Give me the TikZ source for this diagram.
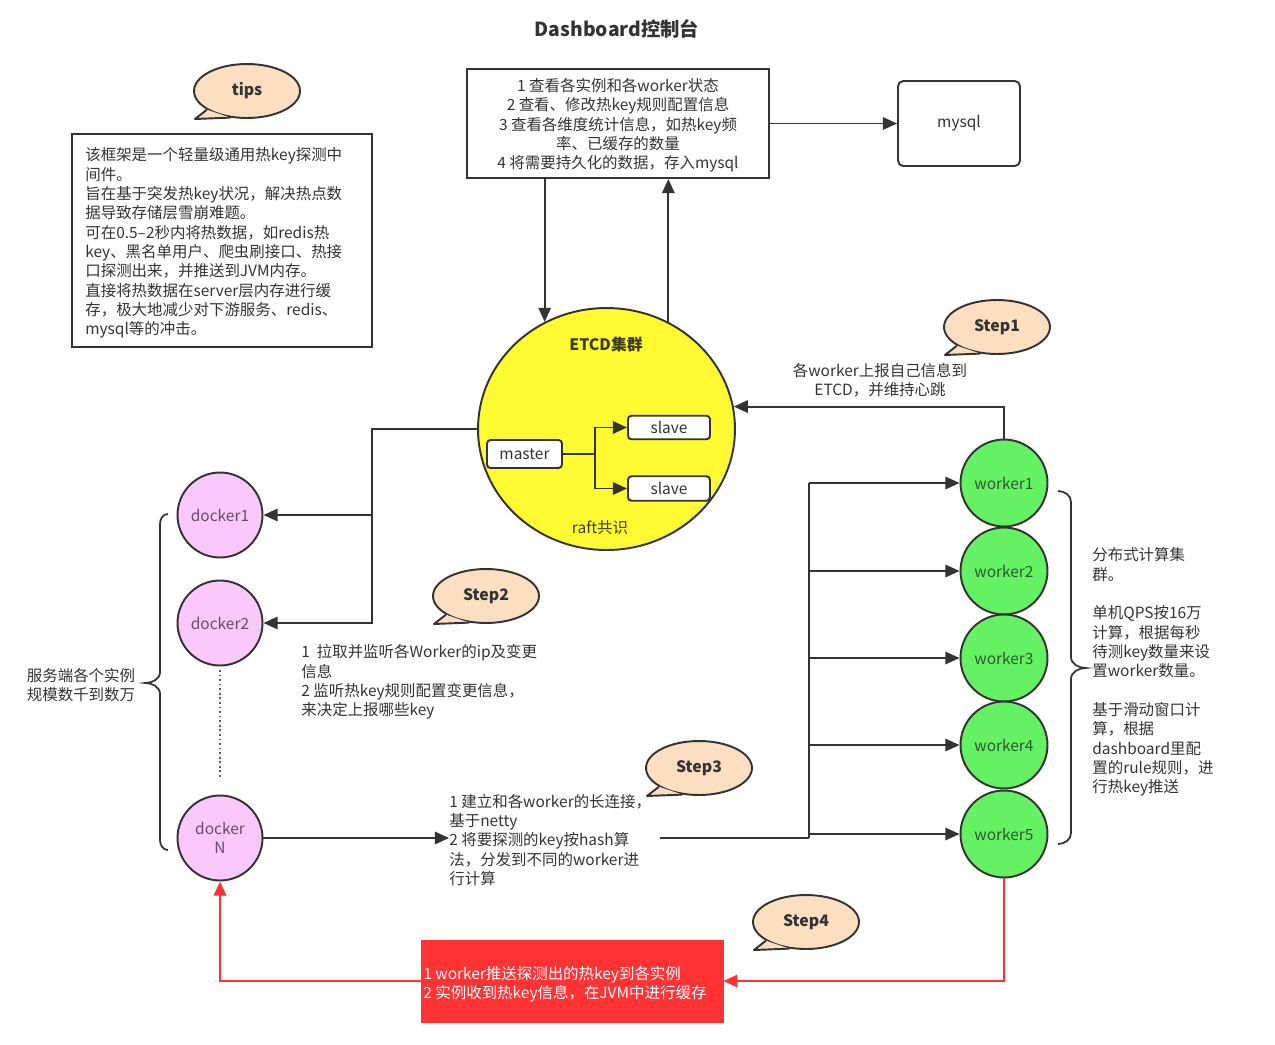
\documentclass[tikz,border=0pt]{standalone}
\usepackage{fontspec}
\setmainfont{Noto Sans CJK SC}
\usetikzlibrary{arrows.meta,shapes.geometric,calc}
\definecolor{ln}{HTML}{333333}
\definecolor{txt}{HTML}{333333}
\definecolor{peach}{RGB}{252,222,192}
\definecolor{pinkc}{RGB}{250,200,250}
\definecolor{greenc}{RGB}{100,242,100}
\definecolor{yel}{RGB}{255,250,50}
\definecolor{redc}{RGB}{255,51,51}
\definecolor{dtxt}{RGB}{105,75,105}
\definecolor{wtxt}{RGB}{45,90,45}
\definecolor{etxt}{RGB}{60,60,20}
\newcommand\mybubble[3]{%
  \node[bub] (#1) at (#2) {#3};
  \fill[peach] (#1.205) -- ($(#1.center)+(-52,28)$) -- (#1.238) -- cycle;
  \draw[line, line join=round] (#1.205) -- ($(#1.center)+(-52,28)$) -- (#1.238);
}
\begin{document}
\begin{tikzpicture}[x=0.02cm,y=-0.02cm,
  every node/.style={font=\fontsize{8.8}{11}\selectfont, text=txt},
  line/.style={draw=ln, line width=1.1pt},
  arr/.style={line, -{Triangle[length=8pt,width=7pt]}},
  redarr/.style={draw=redc, line width=1.1pt, -{Triangle[length=8pt,width=7pt]}},
  box/.style={draw=ln, line width=1.1pt, inner sep=0, fill=white},
  rbox/.style={box, rounded corners=2pt},
  docker/.style={circle, draw=ln, line width=1.1pt, fill=pinkc, minimum size=1.7cm, inner sep=0, text=dtxt, align=center},
  worker/.style={circle, draw=ln, line width=1.1pt, fill=greenc, minimum size=1.74cm, inner sep=0, text=wtxt},
  bub/.style={ellipse, draw=ln, line width=1.1pt, fill=peach, minimum width=2.12cm, minimum height=1.08cm, inner sep=0, font=\fontsize{9}{11}\selectfont\bfseries},
  txtl/.style={align=left, inner sep=0, anchor=west},
  txtc/.style={align=center, inner sep=0}
]
\useasboundingbox (0,0) rectangle (1275,1045);

% title
\node[font=\fontsize{11}{13}\selectfont\bfseries] (title) at (617,29) {Dashboard控制台};

% dashboard box and mysql
\node[box, minimum width=6.04cm, minimum height=2.18cm] (dash) at (618,123.5) {};
\node[txtc] (dashtext) at (618,125.5) {1 查看各实例和各worker状态\\2 查看、修改热key规则配置信息\\3 查看各维度统计信息，如热key频\\率、已缓存的数量\\4 将需要持久化的数据，存入mysql};
\node[box, rounded corners=3pt, minimum width=2.44cm, minimum height=1.7cm] (mysql) at (959,123.5) {mysql};
\draw[arr] (dash.east) -- (mysql.west);

% tips
\mybubble{tips}{247,91}{tips}
\node[box, minimum width=6cm, minimum height=4.26cm] (tipsbox) at (222,240.5) {};
\node[txtl] (tipstext) at (85,243) {该框架是一个轻量级通用热key探测中\\间件。\\旨在基于突发热key状况，解决热点数\\据导致存储层雪崩难题。\\可在0.5–2秒内将热数据，如redis热\\key、黑名单用户、爬虫刷接口、热接\\口探测出来，并推送到JVM内存。\\直接将热数据在server层内存进行缓\\存，极大地减少对下游服务、redis、\\mysql等的冲击。};

% ETCD
\node[ellipse, draw=ln, line width=1.1pt, fill=yel, minimum width=5.14cm, minimum height=4.84cm, inner sep=0] (etcd) at (606.5,429) {};
\node[font=\fontsize{9}{11}\selectfont\bfseries, text=etxt] (etcdt) at (606,344) {ETCD集群};
\node[text=etxt] (raft) at (600,528) {raft共识};
\node[rbox, minimum width=1.5cm, minimum height=0.56cm] (master) at (524.5,454) {master};
\node[rbox, minimum width=1.64cm, minimum height=0.47cm] (s1) at (669,427.5) {slave};
\node[rbox, minimum width=1.64cm, minimum height=0.49cm] (s2) at (669,488.5) {slave};
\coordinate (mj) at (595,454);
\draw[line] (master.east) -- (mj);
\draw[arr] (mj) |- (s1.west);
\draw[arr] (mj) |- (s2.west);

\draw[arr] (etcd.120 |- dash.south) -- (etcd.120);
\draw[arr] (etcd.60.5) -- (etcd.60.5 |- dash.south);

% dockers
\node[docker] (d1) at (220,515) {docker1};
\node[docker] (d2) at (220,623) {docker2};
\node[docker] (dN) at (220,838) {docker\\N};
\draw[draw=ln!80, line width=0.9pt, dash pattern=on 1pt off 1.6pt, shorten <=2pt, shorten >=9pt] (d2.south) -- (dN.north);

\coordinate (jL) at (372,0);
\draw[arr] (etcd.west) -- (etcd.west -| jL) |- (d2.east);
\draw[arr] (d1.east -| jL) -- (d1.east);

% left brace
\draw[line, line width=1pt] (168,514) to[out=180,in=90] (160,524) -- (160,672) to[out=270,in=0] (145,683) to[out=0,in=90] (160,694) -- (160,840) to[out=270,in=180] (168,850);
\node[txtc] (lefttext) at (81,685) {服务端各个实例\\规模数千到数万};

% workers
\node[worker] (w1) at (1004,483) {worker1};
\node[worker] (w2) at (1004,571) {worker2};
\node[worker] (w3) at (1004,658) {worker3};
\node[worker] (w4) at (1004,745) {worker4};
\node[worker] (w5) at (1004,834) {worker5};
\coordinate (busx) at (809,0);
\coordinate (s3out) at (660,838);
\draw[line] (w1.west -| busx) -- (s3out -| busx);
\foreach \w in {w1,w2,w3,w4,w5} {\draw[arr] (\w.west -| busx) -- (\w.west);}

% step1
\mybubble{st1}{997,327}{Step1}
\node[txtc] (st1text) at (880,380) {各worker上报自己信息到\\ETCD，并维持心跳};
\draw[arr] (w1.north) |- (etcd.10.8);

% step2
\mybubble{st2}{486,596}{Step2}
\node[txtl] (st2text) at (301,682) {1\ \ 拉取并监听各Worker的ip及变更\\信息\\2 监听热key规则配置变更信息，\\来决定上报哪些key};

% step3
\mybubble{st3}{699,768}{Step3}
\node[txtl] (st3text) at (449,840) {1 建立和各worker的长连接，\\基于netty\\2 将要探测的key按hash算\\法，分发到不同的worker进\\行计算};
\draw[arr] (dN.east) -- (dN.east -| st3text.west);
\draw[line] (s3out) -- (s3out -| busx);

% right brace
\draw[line, line width=1pt] (1058,491) to[out=0,in=90] (1071,502) -- (1071,657) to[out=270,in=180] (1086,668) to[out=180,in=90] (1071,679) -- (1071,833) to[out=270,in=0] (1058,844);
\node[txtl] (righttext) at (1092,672) {分布式计算集\\群。\\[11pt]单机QPS按16万\\计算，根据每秒\\待测key数量来设\\置worker数量。\\[11pt]基于滑动窗口计\\算，根据\\dashboard里配\\置的rule规则，进\\行热key推送};

% step4
\mybubble{st4}{806,922}{Step4}
\node[draw=redc, fill=redc, minimum width=6.04cm, minimum height=1.64cm, inner sep=0] (redbox) at (572,981) {};
\node[txtl, text=white] (redtext) at (423,984.5) {1 worker推送探测出的热key到各实例\\2 实例收到热key信息，在JVM中进行缓存};
\draw[redarr] (w5.south) |- (redbox.east);
\draw[redarr] (redbox.west) -| (dN.south);
\end{tikzpicture}
\end{document}
